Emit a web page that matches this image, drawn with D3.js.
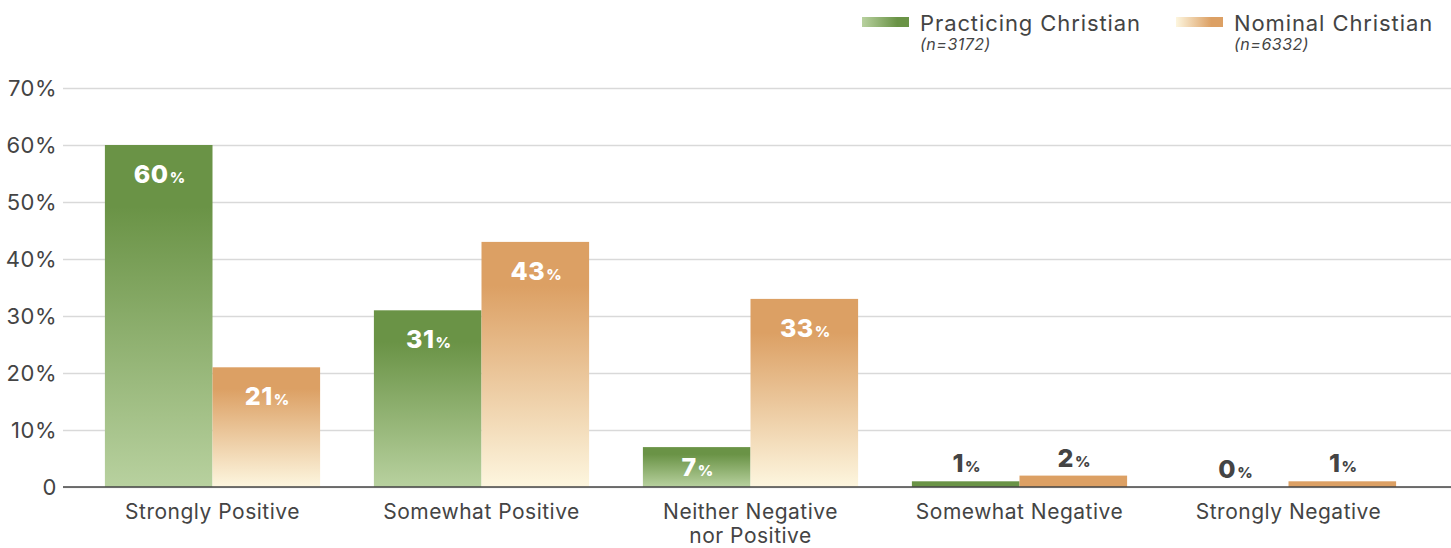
<!DOCTYPE html>
<html>
<head>
<meta charset="utf-8">
<script src="https://cdn.jsdelivr.net/npm/d3@7/dist/d3.min.js"></script>
<style>
  html, body { margin: 0; padding: 0; background: #fff; }
  svg { display: block; font-family: Inter, "Open Sans", sans-serif; }
</style>
</head>
<body>
<svg id="chart" width="1451" height="548"></svg>
<script>
// Survey categories and shares (%) per group
const categories = [
  ["Strongly Positive"],
  ["Somewhat Positive"],
  ["Neither Negative", "nor Positive"],
  ["Somewhat Negative"],
  ["Strongly Negative"]
];
const practicing = [60, 31, 7, 1, 0];
const nominal = [21, 43, 33, 2, 1];
const seriesNames = ["Practicing Christian", "Nominal Christian"];
const seriesN = ["(n=3172)", "(n=6332)"];
const yTicks = [0, 10, 20, 30, 40, 50, 60, 70];

const svg = d3.select("#chart");
const W = 1451;
const axisLeft = 63;
const plot = { top: 88, bottom: 487, left: 78, right: 1423 };

const palettes = [
  { dark: "#6a9346", light: "#b8d19f" },
  { dark: "#dca064", light: "#fdf6df" }
];

// Vertical gradients for bars, horizontal for legend swatches
const defs = svg.append("defs");
palettes.forEach((p, i) => {
  const g = defs.append("linearGradient")
    .attr("id", "bar" + i).attr("x1", 0).attr("y1", 0).attr("x2", 0).attr("y2", 1);
  g.append("stop").attr("offset", "0%").attr("stop-color", p.dark);
  g.append("stop").attr("offset", "18%").attr("stop-color", p.dark);
  g.append("stop").attr("offset", "100%").attr("stop-color", p.light);
  const s = defs.append("linearGradient")
    .attr("id", "swatch" + i).attr("x1", 0).attr("y1", 0).attr("x2", 1).attr("y2", 0);
  s.append("stop").attr("offset", "0%").attr("stop-color", p.light);
  s.append("stop").attr("offset", "75%").attr("stop-color", p.dark);
  s.append("stop").attr("offset", "100%").attr("stop-color", p.dark);
});

const y = d3.scaleLinear().domain([0, 70]).range([plot.bottom, plot.top]);
const x = d3.scaleBand()
  .domain(d3.range(categories.length))
  .range([plot.left, plot.right])
  .paddingInner(0.2)
  .paddingOuter(0.1);
const xs = d3.scaleBand().domain([0, 1]).range([0, x.bandwidth()]);

// Gridlines and y tick labels
const yAxis = d3.axisLeft(y)
  .tickValues(yTicks)
  .tickSize(-(W - axisLeft))
  .tickPadding(6)
  .tickFormat(d => d === 0 ? "0" : d + "%");
const gy = svg.append("g").attr("transform", `translate(${axisLeft},0)`).call(yAxis);
gy.select(".domain").remove();
gy.selectAll(".tick line").attr("stroke", "#d9d9d9").attr("stroke-width", 1.5);
gy.selectAll(".tick text")
  .attr("fill", "#444").attr("font-size", 22).attr("letter-spacing", 0.5)
  .attr("font-family", "Inter, sans-serif");

// Bars (very short bars use the solid tone)
const series = [practicing, nominal];
const groups = svg.append("g");
series.forEach((vals, si) => {
  groups.selectAll(".bar" + si)
    .data(vals)
    .join("rect")
    .attr("class", "bar" + si)
    .attr("x", (d, i) => x(i) + xs(si))
    .attr("width", xs.bandwidth())
    .attr("y", d => y(d))
    .attr("height", d => y(0) - y(d))
    .attr("fill", d => d < 5 ? palettes[si].dark : `url(#bar${si})`);
});

// Baseline axis
svg.append("line")
  .attr("x1", axisLeft).attr("x2", W)
  .attr("y1", y(0)).attr("y2", y(0))
  .attr("stroke", "#444").attr("stroke-width", 1.5);

// Value labels: inside the bar when it is tall enough, above it otherwise
series.forEach((vals, si) => {
  vals.forEach((v, i) => {
    const inside = v >= 5;
    const cx = x(i) + xs(si) + xs.bandwidth() / 2 + 1;
    const t = svg.append("text")
      .attr("x", cx)
      .attr("y", inside ? Math.min(y(v) + 38, y(0) - 11) : y(v) - 9)
      .attr("text-anchor", "middle")
      .attr("font-weight", 800)
      .attr("letter-spacing", 0.5)
      .attr("fill", inside ? "#fff" : "#444");
    t.append("tspan").attr("font-size", 25).text(v);
    t.append("tspan").attr("font-size", 15).attr("dx", 1).text("%");
  });
});

// Category labels
categories.forEach((lines, i) => {
  const cx = x(i) + x.bandwidth() / 2;
  const t = svg.append("text")
    .attr("x", cx)
    .attr("y", 519)
    .attr("text-anchor", "middle")
    .attr("font-size", 21)
    .attr("letter-spacing", 0.5)
    .attr("fill", "#444");
  lines.forEach((ln, j) => {
    t.append("tspan").attr("x", cx).attr("dy", j === 0 ? 0 : 24).text(ln);
  });
});

// Legend
const legendX = [862, 1176];
seriesNames.forEach((name, i) => {
  const g = svg.append("g").attr("transform", `translate(${legendX[i]},0)`);
  g.append("rect").attr("x", 0).attr("y", 17).attr("width", 47).attr("height", 10)
    .attr("fill", `url(#swatch${i})`);
  g.append("text").attr("x", 58).attr("y", 31)
    .attr("font-size", 22).attr("letter-spacing", 0.9).attr("fill", "#444").text(name);
  g.append("text").attr("x", 58).attr("y", 50)
    .attr("font-size", 16).attr("letter-spacing", 0.5).attr("font-style", "italic")
    .attr("fill", "#444").text(seriesN[i]);
});
</script>
</body>
</html>
